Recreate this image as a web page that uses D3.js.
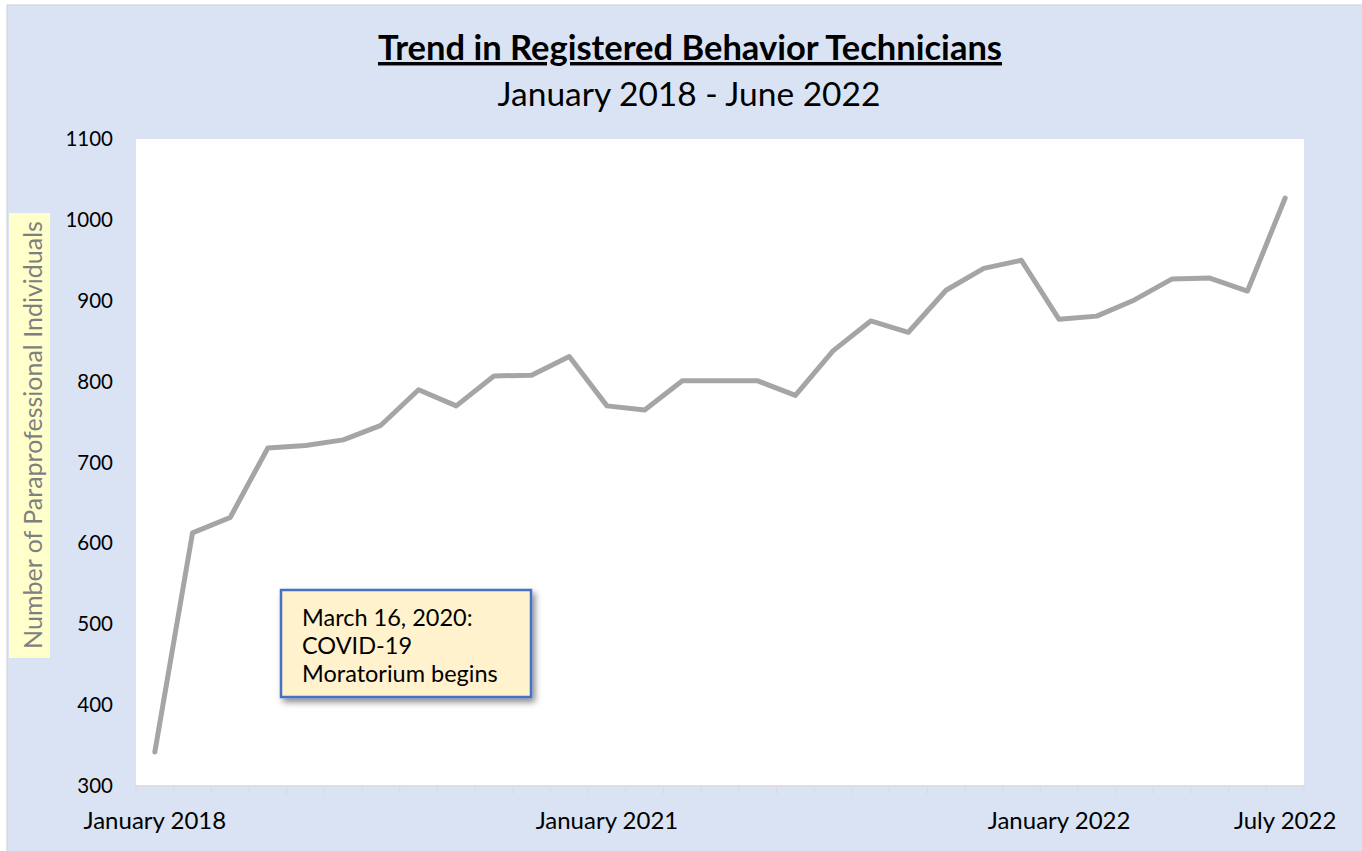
<!DOCTYPE html>
<html>
<head>
<meta charset="utf-8">
<script src="https://cdn.jsdelivr.net/npm/d3@7"></script>
<style>
  body { margin: 0; background: #ffffff; }
  svg { display: block; font-family: Lato, "Open Sans", sans-serif; }
</style>
</head>
<body>
<svg width="1362" height="851"></svg>
<script>
// one value per category slot
var values = [342, 613, 632, 718, 721, 728, 746, 790, 770, 807, 808, 831,
              770, 765, 801, 801, 801, 783, 838, 875, 861, 913, 940, 950,
              877, 881, 901, 927, 928, 912, 1027];
var tickLabels = {0: "January 2018", 12: "January 2021", 24: "January 2022", 30: "July 2022"};
var yTicks = [300, 400, 500, 600, 700, 800, 900, 1000, 1100];
var noteLines = ["March 16, 2020:", "COVID-19", "Moratorium begins"];

var svg = d3.select("svg");

// panel background
svg.append("rect")
    .attr("x", 7).attr("y", 5)
    .attr("width", 1360).attr("height", 850)
    .attr("fill", "#dae3f3")
    .attr("stroke", "#d0d0d0");

var plot = {left: 136, right: 1304, top: 139, bottom: 786};

svg.append("rect")
    .attr("x", plot.left).attr("y", plot.top)
    .attr("width", plot.right - plot.left).attr("height", plot.bottom - plot.top)
    .attr("fill", "#ffffff");

var x = d3.scaleBand()
    .domain(d3.range(values.length))
    .range([plot.left, plot.right]);

var y = d3.scaleLinear()
    .domain([300, 1100])
    .range([plot.bottom, plot.top]);

// x axis: ticks between categories
var xAxis = svg.append("g").attr("class", "x-axis");
xAxis.append("line")
    .attr("x1", plot.left).attr("x2", plot.right)
    .attr("y1", plot.bottom).attr("y2", plot.bottom)
    .attr("stroke", "#d9d9d9").attr("stroke-width", 1.5);
xAxis.selectAll("line.tick")
    .data(d3.range(values.length + 1))
    .enter().append("line")
        .attr("class", "tick")
        .attr("x1", function(d) { return plot.left + d * x.step(); })
        .attr("x2", function(d) { return plot.left + d * x.step(); })
        .attr("y1", plot.bottom).attr("y2", plot.bottom + 8)
        .attr("stroke", "#d9d9d9").attr("stroke-width", 1);
xAxis.selectAll("text")
    .data(Object.keys(tickLabels))
    .enter().append("text")
        .attr("x", function(d) { return x(+d) + x.bandwidth() / 2; })
        .attr("y", 829)
        .attr("text-anchor", "middle")
        .attr("font-size", 24)
        .attr("fill", "#000")
        .text(function(d) { return tickLabels[d]; });

// y axis labels
svg.append("g").attr("class", "y-axis")
    .selectAll("text")
    .data(yTicks)
    .enter().append("text")
        .attr("x", 113)
        .attr("y", function(d) { return y(d) + 7; })
        .attr("text-anchor", "end")
        .attr("font-size", 20.5)
        .attr("fill", "#000")
        .text(function(d) { return d; });

// y axis title with yellow highlight
svg.append("rect")
    .attr("x", 9).attr("y", 213)
    .attr("width", 41).attr("height", 445)
    .attr("fill", "#ffffcc");
svg.append("text")
    .attr("transform", "translate(42," + 435 + ") rotate(-90)")
    .attr("text-anchor", "middle")
    .attr("font-size", 25)
    .attr("fill", "#7f7f7f")
    .text("Number of Paraprofessional Individuals");

// line
var line = d3.line()
    .x(function(d, i) { return x(i) + x.bandwidth() / 2; })
    .y(function(d) { return y(d); });

svg.append("path")
    .datum(values)
    .attr("d", line)
    .attr("fill", "none")
    .attr("stroke", "#a5a5a5")
    .attr("stroke-width", 5)
    .attr("stroke-linejoin", "round")
    .attr("stroke-linecap", "round");

// titles
svg.append("text")
    .attr("x", 690).attr("y", 60)
    .attr("text-anchor", "middle")
    .attr("font-size", 34.5)
    .attr("font-weight", "bold")
    .attr("text-decoration", "underline")
    .attr("fill", "#000")
    .text("Trend in Registered Behavior Technicians");
svg.append("text")
    .attr("x", 689).attr("y", 106)
    .attr("text-anchor", "middle")
    .attr("font-size", 33.5)
    .attr("fill", "#000")
    .text("January 2018 - June 2022");

// annotation box with shadow
var defs = svg.append("defs");
var f = defs.append("filter").attr("id", "shadow")
    .attr("x", "-10%").attr("y", "-10%").attr("width", "130%").attr("height", "140%");
f.append("feDropShadow")
    .attr("dx", 3).attr("dy", 4).attr("stdDeviation", 3)
    .attr("flood-color", "#000").attr("flood-opacity", 0.45);

svg.append("rect")
    .attr("x", 281).attr("y", 590)
    .attr("width", 250).attr("height", 107)
    .attr("fill", "#fff2cc")
    .attr("stroke", "#4472c4")
    .attr("stroke-width", 2.5)
    .attr("filter", "url(#shadow)");
svg.append("g").selectAll("text")
    .data(noteLines)
    .enter().append("text")
        .attr("x", 302)
        .attr("y", function(d, i) { return 626 + i * 28; })
        .attr("font-size", 23.5)
        .attr("fill", "#000")
        .text(function(d) { return d; });
</script>
</body>
</html>
